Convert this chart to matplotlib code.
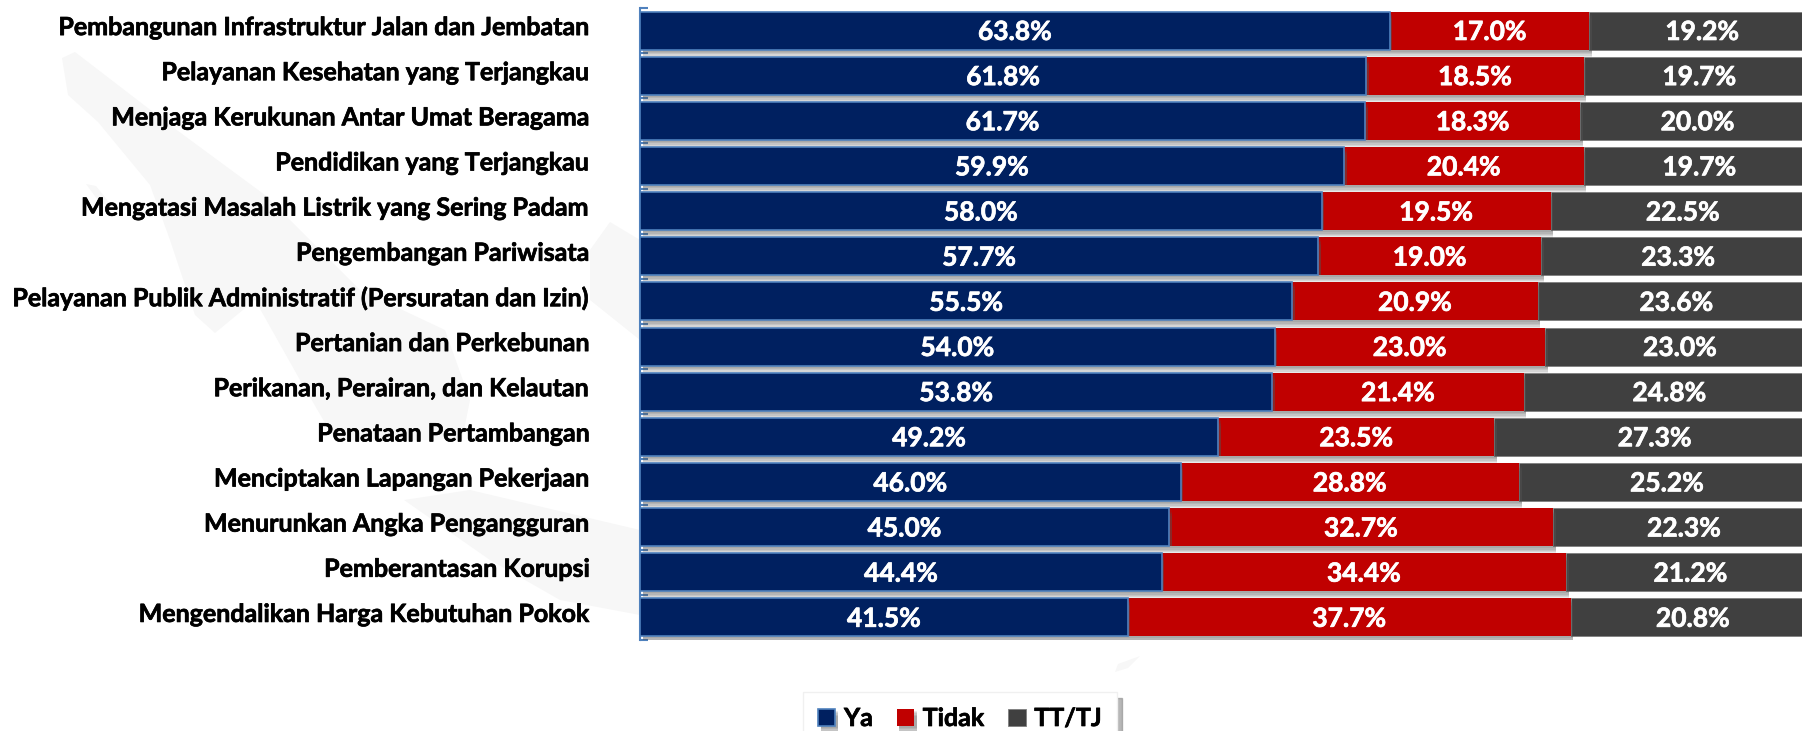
import matplotlib
matplotlib.use('Agg')
import matplotlib.pyplot as plt
import matplotlib.patheffects as pe
from matplotlib.patches import Polygon
from matplotlib.transforms import ScaledTranslation
import numpy as np

categories = [
    'Pembangunan Infrastruktur Jalan dan Jembatan',
    'Pelayanan Kesehatan yang Terjangkau',
    'Menjaga Kerukunan Antar Umat Beragama',
    'Pendidikan yang Terjangkau',
    'Mengatasi Masalah Listrik yang Sering Padam',
    'Pengembangan Pariwisata',
    'Pelayanan Publik Administratif (Persuratan dan Izin)',
    'Pertanian dan Perkebunan',
    'Perikanan, Perairan, dan Kelautan',
    'Penataan Pertambangan',
    'Menciptakan Lapangan Pekerjaan',
    'Menurunkan Angka Pengangguran',
    'Pemberantasan Korupsi',
    'Mengendalikan Harga Kebutuhan Pokok',
]
ya = [63.8, 61.8, 61.7, 59.9, 58.0, 57.7, 55.5, 54.0, 53.8, 49.2, 46.0, 45.0, 44.4, 41.5]
tidak = [17.0, 18.5, 18.3, 20.4, 19.5, 19.0, 20.9, 23.0, 21.4, 23.5, 28.8, 32.7, 34.4, 37.7]
tt_tj = [19.2, 19.7, 20.0, 19.7, 22.5, 23.3, 23.6, 23.0, 24.8, 27.3, 25.2, 22.3, 21.2, 20.8]

plt.rcParams['font.family'] = ['Lato', 'DejaVu Sans']
W, H = 1802, 731
BLUE, RED, GREY = '#002060', '#C00000', '#404040'
EDGE = '#4F81BD'

fig = plt.figure(figsize=(W / 100, H / 100), dpi=100)

# faint map watermark behind the chart, in picture pixels
islands = [
    [(62, 58), (75, 52), (170, 125), (265, 195), (360, 290), (445, 330), (470, 400), (462, 440), (335, 440),
     (300, 380), (255, 300), (215, 333), (195, 315), (170, 240), (150, 185), (98, 122), (68, 95)],
    [(404, 500), (470, 490), (640, 530), (640, 615), (560, 600), (490, 560)],
    [(590, 250), (610, 222), (640, 240), (640, 340), (590, 300)],
    [(86, 184), (96, 186), (112, 206), (100, 203)],
    [(1115, 672), (1118, 664), (1140, 656), (1128, 668)],
]
for pts in islands:
    pts = [(px / W, 1 - py / H) for px, py in pts]
    fig.add_artist(Polygon(pts, closed=True, facecolor='#f7f7f7', edgecolor='none', transform=fig.transFigure, zorder=-1))

# the plot runs past the right edge of the picture, like the reference
ax = fig.add_axes([640 / W, 1 - 640 / H, 1175 / W, 632 / H])

y = np.arange(len(categories))
ya = np.array(ya)
tidak = np.array(tidak)
tt_tj = np.array(tt_tj)
shadow = [pe.SimplePatchShadow(offset=(2, -k), shadow_rgbFace='#555555', alpha=0.13) for k in (1.5, 2.5, 3.5, 4.5, 5.5)]
shadow.append(pe.Normal())

bars_ya = ax.barh(y, ya, height=0.84, color=BLUE, edgecolor=EDGE, linewidth=1.2, label='Ya', path_effects=shadow)
bars_ti = ax.barh(y, tidak, left=ya, height=0.84, color=RED, label='Tidak', path_effects=shadow)
bars_tt = ax.barh(y, tt_tj, left=ya + tidak, height=0.84, color=GREY, edgecolor='#7f7f7f', linewidth=0.6, label='TT/TJ')
for b in bars_ya:
    b.set_zorder(3)
for b in bars_ti:
    b.set_zorder(2.5)
for bars in (bars_ya, bars_ti, bars_tt):
    labels = ax.bar_label(bars, fmt='%.1f%%', label_type='center', color='white', fontweight='bold', fontsize=19, zorder=5)
    for a in labels:
        a.xyann = (0, -1)
        a.set_path_effects([pe.withStroke(linewidth=0.5, foreground='white')])

ax.set_xlim(0, 100)
ax.set_ylim(len(categories) - 0.5, -0.5)
ax.set_yticks(y, categories, fontweight='bold', fontsize=18, color='black')
ax.set_yticks(np.arange(-0.5, len(categories)), minor=True)
ax.tick_params(axis='y', which='major', length=0, pad=36)
ax.tick_params(axis='y', which='minor', direction='in', length=6, width=1.5, color=EDGE)
ax.tick_params(axis='x', length=0, labelbottom=False)
for lab in ax.get_yticklabels():
    lab.set_transform(lab.get_transform() + ScaledTranslation(0, 5 / 100, fig.dpi_scale_trans))
    lab.set_path_effects([pe.withStroke(linewidth=0.5, foreground='black')])
for side in ('top', 'right', 'bottom'):
    ax.spines[side].set_visible(False)
ax.spines['left'].set_color(EDGE)
ax.spines['left'].set_linewidth(1.5)
ax.patch.set_alpha(0)

leg = fig.legend(handles=[bars_ya, bars_ti, bars_tt], loc='upper left', bbox_to_anchor=(803 / W, 1 - 692 / H),
                 ncols=3, frameon=True, fancybox=False, shadow={'color': '#888888', 'alpha': 0.6, 'ox': 4, 'oy': -4},
                 edgecolor='#f0f0f0', facecolor='white',
                 prop={'size': 18, 'weight': 'bold'}, handlelength=0.69, handleheight=0.69, handletextpad=0.35,
                 columnspacing=0.95, borderaxespad=0, borderpad=0.6)
for t in leg.get_texts():
    t.set_path_effects([pe.withStroke(linewidth=0.5, foreground='black')])

fig.savefig('out.png', dpi=100)
